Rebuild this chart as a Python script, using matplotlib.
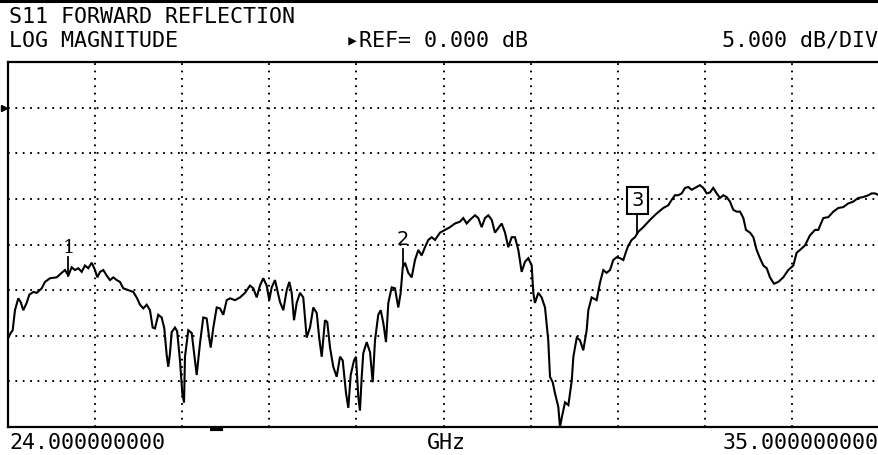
"""S11 forward reflection trace, network analyzer style."""
import numpy as np
from matplotlib import pyplot as plt
from matplotlib import transforms
from matplotlib.lines import Line2D
from matplotlib import rc
rc('font', family='DejaVu Sans Mono')

# trace (GHz, dB)
freq_ghz = [
    24.000, 24.034, 24.059, 24.088, 24.130, 24.160, 24.193, 24.236, 24.269, 24.320,
    24.362, 24.426, 24.467, 24.530, 24.615, 24.678, 24.720, 24.762, 24.804, 24.846,
    24.888, 24.931, 24.972, 25.014, 25.057, 25.099, 25.128, 25.162, 25.204, 25.246,
    25.288, 25.330, 25.373, 25.414, 25.456, 25.519, 25.582, 25.625, 25.667, 25.709,
    25.752, 25.793, 25.827, 25.856, 25.898, 25.941, 25.974, 26.004, 26.024, 26.046,
    26.067, 26.109, 26.136, 26.172, 26.201, 26.223, 26.235, 26.277, 26.320, 26.362,
    26.383, 26.425, 26.466, 26.509, 26.542, 26.560, 26.593, 26.636, 26.677, 26.719,
    26.762, 26.804, 26.867, 26.930, 26.993, 27.056, 27.098, 27.141, 27.182, 27.224,
    27.267, 27.300, 27.330, 27.372, 27.401, 27.435, 27.477, 27.520, 27.553, 27.583,
    27.612, 27.646, 27.688, 27.729, 27.772, 27.814, 27.856, 27.899, 27.931, 27.962,
    28.003, 28.032, 28.067, 28.108, 28.151, 28.193, 28.227, 28.269, 28.298, 28.328,
    28.370, 28.395, 28.424, 28.445, 28.467, 28.487, 28.530, 28.572, 28.606, 28.635,
    28.676, 28.707, 28.740, 28.774, 28.803, 28.846, 28.887, 28.929, 28.959, 28.985,
    29.014, 29.055, 29.098, 29.140, 29.182, 29.224, 29.266, 29.308, 29.351, 29.393,
    29.456, 29.519, 29.582, 29.645, 29.708, 29.750, 29.793, 29.834, 29.898, 29.939,
    29.982, 30.024, 30.066, 30.109, 30.150, 30.192, 30.235, 30.277, 30.318, 30.361,
    30.403, 30.445, 30.487, 30.529, 30.571, 30.614, 30.634, 30.655, 30.697, 30.740,
    30.782, 30.823, 30.845, 30.879, 30.908, 30.950, 30.971, 30.993, 31.035, 31.077,
    31.120, 31.140, 31.183, 31.224, 31.265, 31.308, 31.329, 31.371, 31.434, 31.476,
    31.518, 31.560, 31.603, 31.644, 31.687, 31.729, 31.771, 31.805, 31.834, 31.877,
    31.918, 31.960, 32.023, 32.108, 32.192, 32.276, 32.339, 32.382, 32.423, 32.465,
    32.508, 32.550, 32.592, 32.634, 32.676, 32.739, 32.781, 32.824, 32.865, 32.907,
    32.950, 32.992, 33.034, 33.076, 33.118, 33.160, 33.203, 33.245, 33.287, 33.320,
    33.371, 33.413, 33.455, 33.497, 33.539, 33.582, 33.623, 33.674, 33.728, 33.791,
    33.854, 33.918, 33.960, 34.002, 34.065, 34.128, 34.192, 34.233, 34.297, 34.360,
    34.423, 34.486, 34.549, 34.612, 34.675, 34.738, 34.802, 34.865, 34.907, 34.950,
    35.000,
]
s11_db = [
    -25.3, -24.7, -24.4, -22.2, -20.9, -21.3, -22.2, -21.4, -20.5, -20.2,
    -20.3, -19.8, -19.1, -18.7, -18.6, -18.1, -17.8, -18.4, -17.5, -17.8,
    -17.6, -18.0, -17.3, -17.6, -17.0, -17.8, -18.6, -18.0, -17.8, -18.4,
    -18.9, -18.6, -18.9, -19.1, -19.8, -20.0, -20.2, -20.8, -21.6, -22.0,
    -21.6, -22.2, -24.1, -24.2, -22.7, -23.0, -24.2, -27.1, -28.4, -26.9,
    -24.6, -24.1, -24.5, -27.7, -31.3, -32.3, -27.3, -24.4, -24.7, -27.7,
    -29.3, -25.8, -23.0, -23.1, -25.3, -26.3, -24.1, -21.9, -22.0, -22.7,
    -21.1, -20.9, -21.1, -20.8, -20.3, -19.5, -19.8, -20.8, -19.5, -18.7,
    -19.5, -21.1, -19.7, -18.9, -20.0, -21.3, -22.2, -20.0, -19.1, -20.3,
    -23.3, -21.4, -20.3, -20.8, -25.2, -24.1, -21.9, -22.5, -25.3, -27.3,
    -23.3, -23.5, -26.3, -28.4, -29.5, -27.3, -27.7, -31.3, -32.9, -29.3,
    -27.7, -27.3, -31.7, -33.2, -29.5, -26.9, -25.7, -26.8, -30.1, -25.5,
    -22.7, -22.2, -23.6, -25.7, -21.4, -19.7, -19.8, -21.9, -20.3, -17.5,
    -17.0, -18.1, -18.6, -16.7, -15.6, -16.2, -15.3, -14.5, -14.2, -14.5,
    -13.7, -13.4, -13.1, -12.7, -12.5, -12.1, -12.7, -12.3, -11.8, -12.1,
    -13.1, -12.1, -11.8, -12.3, -13.7, -13.2, -12.7, -13.7, -15.3, -14.2,
    -14.2, -15.6, -18.0, -16.9, -16.5, -17.3, -20.3, -21.4, -20.3, -20.8,
    -21.9, -25.5, -29.5, -30.1, -31.3, -32.8, -35.0, -34.0, -32.3, -32.6,
    -29.9, -27.3, -25.2, -25.5, -26.6, -24.4, -22.2, -20.8, -21.1, -19.2,
    -17.8, -18.1, -17.8, -16.7, -16.4, -16.5, -16.7, -15.8, -15.1, -14.5,
    -14.2, -13.6, -13.1, -12.3, -11.6, -11.0, -10.7, -10.1, -9.6, -9.6,
    -9.4, -8.8, -8.7, -9.0, -8.8, -8.5, -8.8, -9.4, -9.3, -8.8,
    -9.4, -9.9, -9.6, -9.8, -10.3, -11.2, -11.4, -11.4, -12.1, -13.4,
    -13.7, -14.2, -15.6, -16.5, -17.3, -17.6, -18.6, -19.3, -19.1, -18.6,
    -17.8, -17.3, -15.9, -15.6, -15.1, -14.0, -13.4, -13.4, -12.1, -12.0,
    -11.4, -11.0, -10.9, -10.5, -10.3, -9.9, -9.8, -9.6, -9.4, -9.4,
    -9.6,
]

f_start, f_stop = 24.0, 35.0
ref_db, db_per_div = 0.0, 5.0
marker_ghz = [24.762, 28.985, 31.950]
marker_names = ['1', '2', '3']

fig = plt.figure(figsize=(8.79, 4.55), dpi=100)
ax = fig.add_axes([8 / 879, 28 / 455, 871 / 879, 365 / 455])
ax.plot(freq_ghz, s11_db, color='black', lw=1.5, solid_joinstyle='miter')

ax.set_xlim(f_start, f_stop)
ax.set_ylim(ref_db - 7 * db_per_div, ref_db + db_per_div)
ax.set_xticks(np.linspace(f_start, f_stop, 11)[1:-1])
ax.set_yticks(np.arange(-30, 5, 5))
ax.tick_params(length=0, labelbottom=False, labelleft=False)
ax.grid(True, color='black', lw=1.4, linestyle=(0, (0.9, 2.9)))
for side in ['left', 'top', 'bottom']:
    ax.spines[side].set_linewidth(1.6)
ax.spines['right'].set_visible(False)

# markers
for f, name in zip(marker_ghz, marker_names):
    y = np.interp(f, freq_ghz, s11_db)
    ax.plot([f, f], [y, y + 2.0], color='black', lw=1.3)
    if name == '3':
        ax.text(f, y + 3.6, name, ha='center', va='center', fontsize=14,
                family='DejaVu Sans',
                bbox=dict(boxstyle='square,pad=0.2', fc='white', ec='black', lw=1.5))
    else:
        ax.text(f, y + 3.0, name, ha='center', va='center', fontsize=14,
                family='DejaVu Serif' if name == '1' else 'DejaVu Sans')

# reference position arrow on the left edge
trans = transforms.blended_transform_factory(ax.transAxes, ax.transData)
ax.plot([-0.005], [ref_db], marker='>', ms=5, color='black',
        transform=trans, clip_on=False)
# small bar under the graticule
ax.plot([26.55, 26.72], [-35.25, -35.25], color='black', lw=3,
        solid_capstyle='butt', clip_on=False)

fig.add_artist(Line2D([0, 1], [1 - 1.2 / 455] * 2, color='black', lw=2.2))

fs = 15.6
fig.text(9 / 879, 1 - 17 / 455, 'S11 FORWARD REFLECTION', fontsize=fs, va='center')
fig.text(9 / 879, 1 - 41 / 455, 'LOG MAGNITUDE', fontsize=fs, va='center')
fig.text(437 / 879, 1 - 41 / 455, '▸REF= 0.000 dB', fontsize=fs, va='center', ha='center')
fig.text(878 / 879, 1 - 41 / 455, '5.000 dB/DIV', fontsize=fs, va='center', ha='right')
fig.text(9 / 879, 1 - 443 / 455, '%.9f' % f_start, fontsize=fs, va='center')
fig.text(446 / 879, 1 - 443 / 455, 'GHz', fontsize=fs, va='center', ha='center')
fig.text(879 / 879, 1 - 443 / 455, '%.9f' % f_stop, fontsize=fs, va='center', ha='right')

plt.savefig('out.png', dpi=100)
